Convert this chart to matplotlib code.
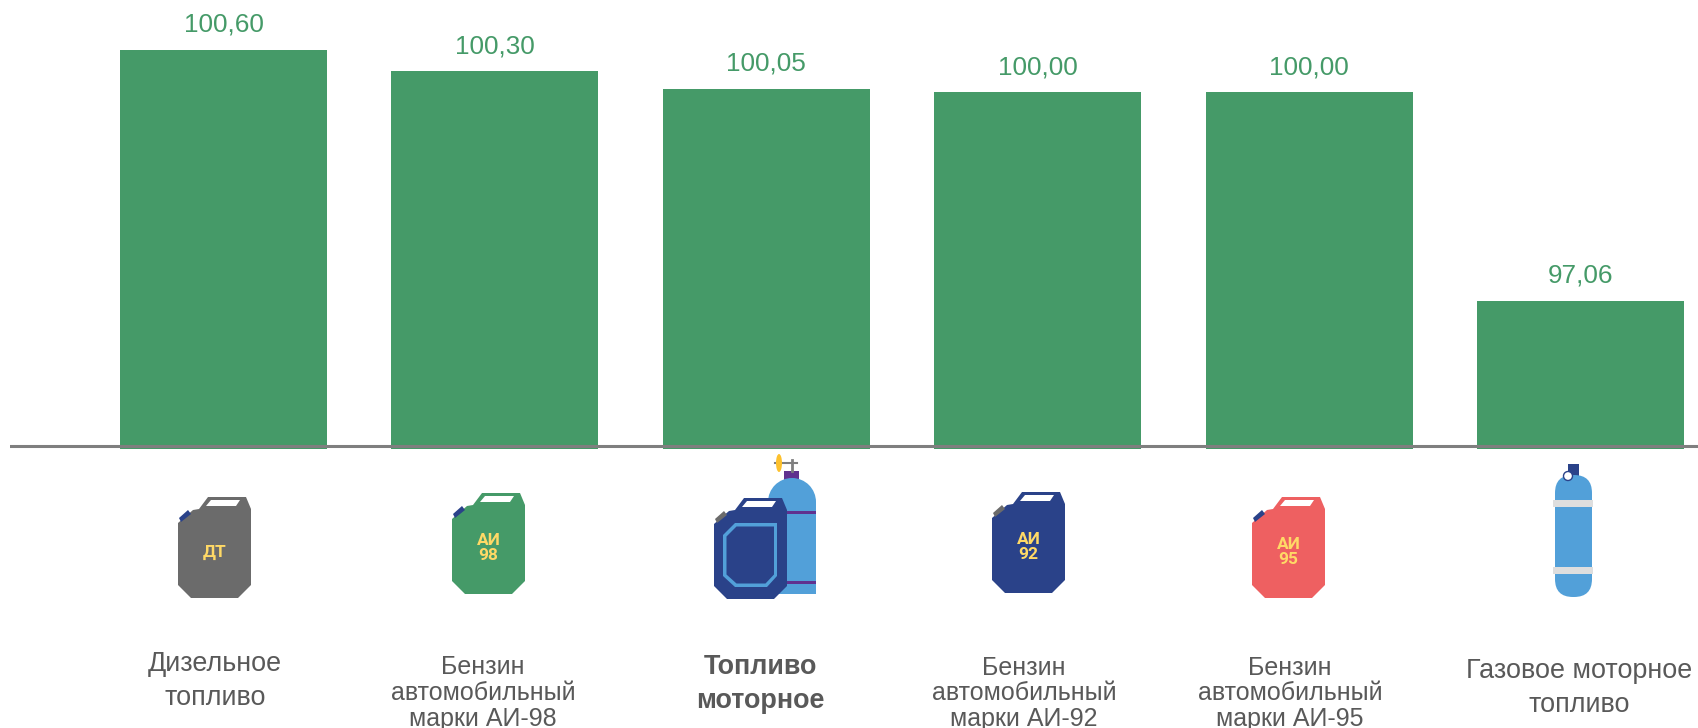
import matplotlib
matplotlib.use('Agg')
from matplotlib import pyplot as plt
from matplotlib.patches import Polygon, Rectangle, Circle, Ellipse, FancyBboxPatch

plt.rcParams['font.family'] = ['Liberation Sans', 'DejaVu Sans']

# values
categories = ['Дизельное\nтопливо', 'Бензин\nавтомобильный\nмарки АИ-98', 'Топливо\nмоторное',
              'Бензин\nавтомобильный\nмарки АИ-92', 'Бензин\nавтомобильный\nмарки АИ-95',
              'Газовое моторное\nтопливо']
values = [100.60, 100.30, 100.05, 100.00, 100.00, 97.06]
value_labels = ['100,60', '100,30', '100,05', '100,00', '100,00', '97,06']
icon_labels = ['ДТ', 'АИ\n98', '', 'АИ\n92', 'АИ\n95', '']

GREEN = '#459a68'
GREY_TEXT = '#595959'
NAVY = '#2a4289'
SKY = '#52a0d9'
YELLOW = '#ffd966'
W, H = 1698, 728
PX_PER_UNIT = 70.9

# label layout, pixels: centre x and centre y of each text block
label_x = [215, 483, 760, 1024, 1290, 1579]
label_y = [681, 693, 684, 693.5, 693.5, 688]

fig = plt.figure(figsize=(W / 100, H / 100), dpi=100)

# bars: y axis runs up from 95 at pixel row 447
ax = fig.add_axes([10 / W, (H - 449) / H, (W - 10) / W, 449 / H])
ax.bar(range(6), values, width=0.763, color=GREEN)
ax.set_xlim((10 - 223.5) / 271.4, (W - 223.5) / 271.4)
ax.set_ylim(95 - 2 / PX_PER_UNIT, 95 + 447 / PX_PER_UNIT)
ax.axis('off')
ax.axhline(95 + 1 / PX_PER_UNIT, color='#7f7f7f', lw=2.2, zorder=5)
for i, v in enumerate(values):
    ax.annotate(value_labels[i], (i, v), xytext=(0, 18), textcoords='offset points',
                ha='center', va='center', fontsize=18.8, color=GREEN)

# icons and category labels are placed in pixel coordinates
pix = fig.add_axes([0, 0, 1, 1], facecolor='none')
pix.set_xlim(0, W)
pix.set_ylim(H, 0)
pix.axis('off')


def poly(points, ox, oy, color, z=3):
    pix.add_patch(Polygon([(ox + a, oy + b) for a, b in points], closed=True, color=color, lw=0, zorder=z))


def jerrycan(ox, oy, color, cap, text=''):
    body = [(0, 26), (15, 13), (21, 12), (30, 0), (68, 0), (73, 12), (73, 88), (60, 101), (13, 101), (0, 88)]
    poly(body, ox, oy, color)
    poly([(28, 9), (33, 3), (62, 3), (58, 9)], ox, oy, 'white', 4)
    poly([(1, 21), (10, 13), (13, 17), (3, 25)], ox, oy, cap, 4)
    if text:
        pix.text(ox + 36.5, oy + 55, text, ha='center', va='center', fontsize=12.5, color=YELLOW,
                 family='Roboto', fontweight='bold', linespacing=1.0, zorder=5)


def gas_cylinder():
    pix.add_patch(Rectangle((1568, 464), 11, 14, color=NAVY, lw=0, zorder=3))
    pix.add_patch(FancyBboxPatch((1555 + 18, 475 + 18), 1, 86, boxstyle='round,pad=18,rounding_size=18',
                                 color=SKY, lw=0, zorder=3))
    pix.add_patch(Rectangle((1553, 500), 40, 7, color='#dedede', lw=0, zorder=4))
    pix.add_patch(Rectangle((1553, 567), 40, 7, color='#dedede', lw=0, zorder=4))
    pix.add_patch(Circle((1568, 476), 4.5, fc='white', ec=NAVY, lw=1, zorder=5))


def mixed_icon():
    # bottle behind the can, flat bottom
    pix.add_patch(Rectangle((784, 471), 15, 10, color='#60318f', lw=0, zorder=2))
    pix.plot([775, 797], [463, 463], color='#7f7f7f', lw=1.5, zorder=2)
    pix.plot([792, 792], [460, 471], color='#7f7f7f', lw=2, zorder=2)
    pix.add_patch(Ellipse((779, 463), 6, 18, color='#fdc12d', lw=0, zorder=3))
    pix.add_patch(Circle((792, 502), 24, color=SKY, lw=0, zorder=2))
    pix.add_patch(Rectangle((768, 502), 48, 92, color=SKY, lw=0, zorder=2))
    pix.add_patch(Rectangle((768, 511), 48, 3, color='#60318f', lw=0, zorder=2.6))
    pix.add_patch(Rectangle((768, 581), 48, 3, color='#60318f', lw=0, zorder=2.6))
    jerrycan(714, 498, NAVY, '#6b6b6b')
    frame = [(9, 37), (21, 25), (63, 25), (63, 78), (53, 89), (21, 89), (9, 78)]
    poly(frame, 714, 498, SKY, 4)
    inner = [(12.5, 38.5), (22.5, 28.5), (60, 28.5), (60, 76.5), (51.5, 85.5), (22.5, 85.5), (12.5, 76.5)]
    poly(inner, 714, 498, NAVY, 4.5)


jerrycan(178, 497, '#6b6b6b', NAVY, icon_labels[0])
jerrycan(452, 493, GREEN, NAVY, icon_labels[1])
mixed_icon()
jerrycan(992, 492, NAVY, '#6b6b6b', icon_labels[3])
jerrycan(1252, 497, '#ee6061', NAVY, icon_labels[4])
gas_cylinder()

for i, name in enumerate(categories):
    three = name.count('\n') == 2
    bold = i == 2
    pix.text(label_x[i], label_y[i], name, ha='center', va='center', color=GREY_TEXT,
             fontsize=18 if three else 19.4, fontweight='bold' if bold else 'normal',
             linespacing=1.08 if three else 1.39, clip_on=False)

fig.savefig('out.png', dpi=100)
